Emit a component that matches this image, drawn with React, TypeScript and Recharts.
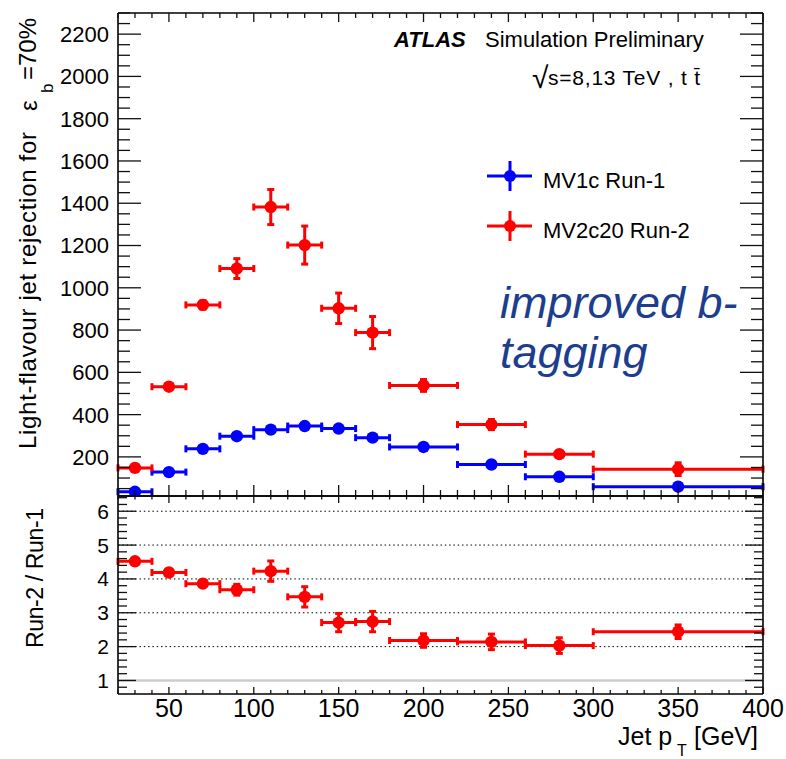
import React from 'react';
import { ScatterChart, Scatter, XAxis, YAxis, ErrorBar, ReferenceLine, Legend } from 'recharts';

// ---------- data ----------
const ptCenters = [30, 50, 70, 90, 110, 130, 150, 170, 200, 240, 280, 350];
const ptHalfWidths = [10, 10, 10, 10, 10, 10, 10, 10, 20, 20, 20, 50];
const run1Values = [35, 128, 238, 298, 329, 346, 334, 291, 247, 164, 106, 59];
const run1Errors = [3, 4, 6, 8, 9, 10, 9, 8, 7, 5, 3, 2];
const run2Values = [148, 532, 919, 1091, 1382, 1202, 903, 788, 538, 353, 213, 142];
const run2Errors = [8, 12, 20, 47, 83, 90, 72, 76, 28, 24, 12, 30];
const ratioValues = [4.52, 4.19, 3.86, 3.68, 4.23, 3.47, 2.71, 2.74, 2.18, 2.14, 2.03, 2.44];
const ratioErrors = [0.05, 0.06, 0.08, 0.16, 0.3, 0.3, 0.27, 0.3, 0.2, 0.23, 0.23, 0.2];

const seriesNames = ['MV1c Run-1', 'MV2c20 Run-2'];
const seriesColors = ['#0000ff', '#ff0000'];

const xTicks: number[] = [];
for (let v = 20; v <= 400; v += 10) xTicks.push(v);
const xLabelTicks = [50, 100, 150, 200, 250, 300, 350, 400];
const yTopTicks: number[] = [];
for (let v = 50; v <= 2300; v += 50) yTopTicks.push(v);
const yTopLabels = [200, 400, 600, 800, 1000, 1200, 1400, 1600, 1800, 2000, 2200];
const yBotTicks: number[] = [];
for (let i = 4; i <= 32; i++) yBotTicks.push(i / 5);
const yBotLabels = [1, 2, 3, 4, 5, 6];
const gridLevels = [2, 3, 4, 5, 6];

const run1Data = ptCenters.map((x, i) => ({ x, ex: ptHalfWidths[i], y: run1Values[i], ey: run1Errors[i] }));
const run2Data = ptCenters.map((x, i) => ({ x, ex: ptHalfWidths[i], y: run2Values[i], ey: run2Errors[i] }));
const ratioData = ptCenters.map((x, i) => ({ x, ex: ptHalfWidths[i], y: ratioValues[i], ey: ratioErrors[i] }));

// ---------- styling ----------
const FONT = '"Liberation Sans", Arial, Helvetica, sans-serif';
const axisLineStyle = { stroke: '#000', strokeWidth: 1.6 };
const TICK_STROKE = '#111';

const isIn = (arr: number[], v: number) => arr.some((a) => Math.abs(a - v) < 1e-6);

const makeYTick = (side: 'left' | 'right', majors: number[], majorLen: number, minorLen: number, labels: number[] | null, fontSize: number) =>
  (props: any) => {
    const { x, y, payload } = props;
    const v = payload.value;
    const major = isIn(majors, v);
    const len = major ? majorLen : minorLen;
    const dir = side === 'left' ? 1 : -1;
    return (
      <g>
        <line x1={x} y1={y} x2={x + dir * len} y2={y} stroke={TICK_STROKE} strokeWidth={1.3} />
        {labels && isIn(labels, v) ? (
          <text x={x - 9} y={y} dy="0.36em" textAnchor="end" fontSize={fontSize} fontFamily={FONT} fill="#000">
            {String(v)}
          </text>
        ) : null}
      </g>
    );
  };

const makeXTick = (side: 'top' | 'bottom', majorLen: number, minorLen: number, withLabels: boolean) =>
  (props: any) => {
    const { x, y, payload } = props;
    const v = payload.value;
    const major = isIn(xLabelTicks, v);
    const len = major ? majorLen : minorLen;
    const dir = side === 'top' ? 1 : -1;
    return (
      <g>
        <line x1={x} y1={y} x2={x} y2={y + dir * len} stroke={TICK_STROKE} strokeWidth={1.3} />
        {withLabels && major ? (
          <text x={x} y={y + 23} textAnchor="middle" fontSize={25} fontFamily={FONT} fill="#000">
            {String(v)}
          </text>
        ) : null}
      </g>
    );
  };

const makeDot = (color: string) => (p: any) => <circle cx={p.cx} cy={p.cy} r={6.2} fill={color} />;

const LegendBox = () => (
  <svg width={270} height={100} style={{ overflow: 'visible' }}>
    {seriesNames.map((name, i) => {
      const cy = 26 + i * 50;
      const c = seriesColors[i];
      return (
        <g key={name}>
          <line x1={7} y1={cy} x2={52} y2={cy} stroke={c} strokeWidth={3} />
          <line x1={30} y1={cy - 15} x2={30} y2={cy + 15} stroke={c} strokeWidth={3} />
          <circle cx={30} cy={cy} r={6} fill={c} />
          <text x={63} y={cy + 11.5} fontSize={22} fontFamily={FONT} fill="#000">{name}</text>
        </g>
      );
    })}
  </svg>
);

const commonX = { type: 'number' as const, dataKey: 'x', domain: [20, 400], ticks: xTicks, interval: 0 as const, allowDataOverflow: true, tickLine: false, tickSize: 0, tickMargin: 0, axisLine: axisLineStyle };

export default function App() {
  return (
    <div style={{ position: 'absolute', left: 0, top: 0, width: 786, height: 759, background: '#fff', fontFamily: FONT }}>
      <div style={{ position: 'absolute', left: 0, top: 0 }}>
        <ScatterChart width={786} height={520} margin={{ top: 12, right: 22, bottom: 23, left: 0 }}>
          <XAxis xAxisId="b" orientation="bottom" height={1} {...commonX} tick={makeXTick('bottom', 11, 6, false)} />
          <XAxis xAxisId="t" orientation="top" height={1} {...commonX} tick={makeXTick('top', 9, 5, false)} />
          <YAxis yAxisId="l" orientation="left" width={118} type="number" dataKey="y" domain={[15, 2300]} ticks={yTopTicks} interval={0} allowDataOverflow tickLine={false} tickSize={0} tickMargin={0} axisLine={axisLineStyle} tick={makeYTick('left', yTopLabels, 23, 12, yTopLabels, 22)} />
          <YAxis yAxisId="r" orientation="right" width={1} type="number" dataKey="y" domain={[15, 2300]} ticks={yTopTicks} interval={0} allowDataOverflow tickLine={false} tickSize={0} tickMargin={0} axisLine={axisLineStyle} tick={makeYTick('right', yTopLabels, 23, 12, null, 22)} />
          <Scatter name={seriesNames[0]} data={run1Data} xAxisId="b" yAxisId="l" fill={seriesColors[0]} shape={makeDot(seriesColors[0])} isAnimationActive={false}>
            <ErrorBar dataKey="ex" direction="x" width={3.5} strokeWidth={3} stroke={seriesColors[0]} isAnimationActive={false} />
            <ErrorBar dataKey="ey" direction="y" width={3.5} strokeWidth={3} stroke={seriesColors[0]} isAnimationActive={false} />
          </Scatter>
          <Scatter name={seriesNames[1]} data={run2Data} xAxisId="b" yAxisId="l" fill={seriesColors[1]} shape={makeDot(seriesColors[1])} isAnimationActive={false}>
            <ErrorBar dataKey="ex" direction="x" width={3.5} strokeWidth={3} stroke={seriesColors[1]} isAnimationActive={false} />
            <ErrorBar dataKey="ey" direction="y" width={3.5} strokeWidth={3} stroke={seriesColors[1]} isAnimationActive={false} />
          </Scatter>
          <Legend layout="horizontal" verticalAlign="middle" align="center" wrapperStyle={{ position: 'absolute', left: 480, top: 150, width: 270, height: 100 }} content={() => <LegendBox />} />
        </ScatterChart>
      </div>
      <div style={{ position: 'absolute', left: 0, top: 480 }}>
        <ScatterChart width={786} height={279} margin={{ top: 15, right: 22, bottom: 64, left: 0 }}>
          <XAxis xAxisId="b" orientation="bottom" height={1} {...commonX} tick={makeXTick('bottom', 7, 4, true)} />
          <XAxis xAxisId="t" orientation="top" height={1} {...commonX} tick={makeXTick('top', 7, 3.5, false)} />
          <YAxis yAxisId="l" orientation="left" width={118} type="number" dataKey="y" domain={[0.6, 6.45]} ticks={yBotTicks} interval={0} allowDataOverflow tickLine={false} tickSize={0} tickMargin={0} axisLine={axisLineStyle} tick={makeYTick('left', yBotLabels, 18, 9, yBotLabels, 21)} />
          <YAxis yAxisId="r" orientation="right" width={1} type="number" dataKey="y" domain={[0.6, 6.45]} ticks={yBotTicks} interval={0} allowDataOverflow tickLine={false} tickSize={0} tickMargin={0} axisLine={axisLineStyle} tick={makeYTick('right', yBotLabels, 18, 9, null, 21)} />
          <ReferenceLine y={1} xAxisId="b" yAxisId="l" stroke="#cccccc" strokeWidth={2.5} />
          {gridLevels.map((g) => (
            <ReferenceLine key={g} y={g} xAxisId="b" yAxisId="l" stroke="#000" strokeWidth={1} strokeDasharray="1.5 2.8" />
          ))}
          <Scatter name="ratio" data={ratioData} xAxisId="b" yAxisId="l" fill={seriesColors[1]} shape={makeDot(seriesColors[1])} isAnimationActive={false}>
            <ErrorBar dataKey="ex" direction="x" width={3.5} strokeWidth={3} stroke={seriesColors[1]} isAnimationActive={false} />
            <ErrorBar dataKey="ey" direction="y" width={3.5} strokeWidth={3} stroke={seriesColors[1]} isAnimationActive={false} />
          </Scatter>
        </ScatterChart>
      </div>
      <svg width={786} height={759} style={{ position: 'absolute', left: 0, top: 0, pointerEvents: 'none' }} fontFamily={FONT}>
        <text x={394} y={47} fontSize={22} fontWeight="bold" fontStyle="italic" fill="#000">ATLAS</text>
        <text x={485} y={47} fontSize={22} fill="#000">Simulation Preliminary</text>
        <text x={532} y={88} fontSize={30} fill="#000">{'\u221A'}</text>
        <text x={548} y={85} fontSize={21} textLength={152} lengthAdjust="spacing" fill="#000">{'s=8,13 TeV , t t\u0304'}</text>
        <text x={500} y={318} fontSize={45} fontStyle="italic" fill="#1d3e8e">improved b-</text>
        <text x={500} y={368} fontSize={45} fontStyle="italic" fill="#1d3e8e">tagging</text>
        <text transform="translate(36,449) rotate(-90)" fontSize={24} textLength={317} lengthAdjust="spacing" fill="#000">Light-flavour jet rejection for</text>
        <text transform="translate(37,111) rotate(-90)" fontSize={24} fill="#000">{'\u03B5'}</text>
        <text transform="translate(53,93) rotate(-90)" fontSize={17} fill="#000">b</text>
        <text transform="translate(36,80) rotate(-90)" fontSize={24} fill="#000">=70%</text>
        <text transform="translate(43,648) rotate(-90)" fontSize={23} textLength={140} lengthAdjust="spacing" fill="#000">Run-2 / Run-1</text>
        <text x={618} y={745} fontSize={25} fill="#000">Jet p</text>
        <text x={677} y={756} fontSize={16} fill="#000">T</text>
        <text x={758} y={745} fontSize={25} textAnchor="end" fill="#000">[GeV]</text>
      </svg>
    </div>
  );
}
